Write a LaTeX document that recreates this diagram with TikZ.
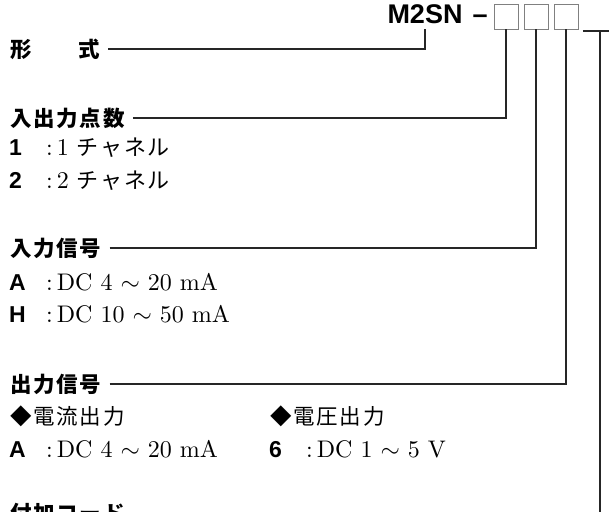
\documentclass[tikz,border=0pt]{standalone}
\usepackage{fontspec}
\setmainfont{lmroman10-regular}[Extension=.otf, BoldFont=lmroman10-bold]
\newfontfamily\cjkhead[LetterSpace=8]{Noto Sans CJK JP}
\newfontfamily\cjkitem[LetterSpace=8]{Noto Sans CJK JP}
\newfontfamily\codefont{Liberation Sans}

\newcommand{\codemark}[1]{\makebox[37pt][l]{\codefont\bfseries\fontsize{23}{27}\selectfont #1}}

\tikzset{
  head/.style={anchor=west, inner xsep=0pt, inner ysep=2pt, font=\cjkhead\bfseries\fontsize{21.5}{25}\selectfont},
  kind/.style={anchor=west, inner xsep=0pt, inner ysep=2pt, font=\cjkhead\fontsize{21.5}{25}\selectfont},
  item/.style={anchor=base west, inner sep=0pt, font=\fontsize{24}{28}\selectfont},
  model/.style={anchor=base, inner xsep=0pt, inner ysep=5pt, font=\codefont\bfseries\fontsize{27}{30}\selectfont},
  slot/.style={draw=black!50, line width=0.9pt, minimum width=24pt, minimum height=25pt, inner sep=0pt},
  lead/.style={line width=1.2pt, black!85, shorten <=8pt},
}

\begin{document}
\begin{tikzpicture}[x=1pt,y=-1pt]
    \useasboundingbox (0,0) rectangle (609,511);
    % model code
    \node [model] (model) at (425,24) {M2SN};
    \node [model] (dash) at (480,24) {–};
    \node [slot] (slot1) at (506,16.5) {};
    \node [slot] (slot2) at (536,16.5) {};
    \node [slot] (slot3) at (566,16.5) {};
    \node [inner sep=0pt, minimum width=34pt, minimum height=0pt] (slot4) at (600,31) {};
    \draw [line width=1.2pt, black!85] (slot4.west) -- (slot4.east);
    % headings
    \node [head] (form) at (10,49) {形\hspace{47pt}式};
    \node [head] (points) at (10,118) {入出力点数};
    \node [head] (insig) at (10,248) {入力信号};
    \node [head] (outsig) at (10,384) {出力信号};
    \node [head] (option) at (10,513) {付加コード};
    % choices
    \node [item] (pt1) at (9,155) {\codemark{1}:\,1 {\cjkitem\fontsize{22}{26}\selectfont チャネル}};
    \node [item] (pt2) at (9,188) {\codemark{2}:\,2 {\cjkitem\fontsize{22}{26}\selectfont チャネル}};
    \node [item] (inA) at (9,290) {\codemark{A}:\,DC~4~{$\sim$}~20~mA};
    \node [item] (inH) at (9,322) {\codemark{H}:\,DC~10~{$\sim$}~50~mA};
    \node [kind] (curr) at (10,416) {◆電流出力};
    \node [kind] (volt) at (270,416) {◆電圧出力};
    \node [item] (outA) at (9,457) {\codemark{A}:\,DC~4~{$\sim$}~20~mA};
    \node [item] (out6) at (269,457) {\codemark{6}:\,DC~1~{$\sim$}~5~V};
    % leaders
    \draw [lead] (form.east) -| (model.south);
    \draw [lead] (points.east) -| (slot1.south);
    \draw [lead] (insig.east) -| (slot2.south);
    \draw [lead] (outsig.east) -| (slot3.south);
    \draw [lead] (option.east) -| (slot4.south);
\end{tikzpicture}
\end{document}
